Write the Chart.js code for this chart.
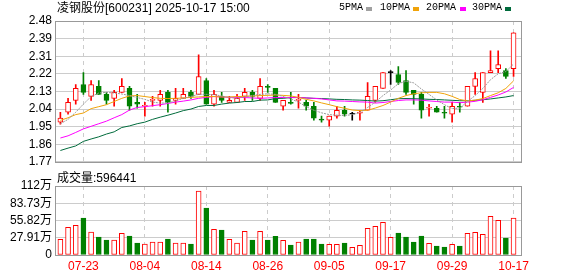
<!DOCTYPE html>
<html>
<head>
<meta charset="utf-8">
<script src="https://cdn.jsdelivr.net/npm/chart.js@4.4.1/dist/chart.umd.min.js"></script>
<style>
  body { margin: 0; background: #fff; }
  #wrap { position: relative; width: 578px; height: 276px; overflow: hidden; font-family: "Liberation Sans", "Noto Sans CJK SC", sans-serif; }
  canvas { position: absolute; left: 0; }
  .txt { position: absolute; font-size: 12px; line-height: 14px; color: #000; white-space: nowrap; }
  .lg { position: absolute; top: 2px; font: 10px/12px "Liberation Mono", monospace; color: #000; }
  .sw { position: absolute; top: 7px; width: 6px; height: 4px; }
</style>
</head>
<body>
<div id="wrap">
  <canvas id="kline" width="578" height="172" style="top:0"></canvas>
  <canvas id="vol" width="578" height="104" style="top:172px"></canvas>
  <div class="txt" style="left:57px;top:1px">凌钢股份[600231] 2025-10-17 15:00</div>
  <div class="lg" style="left:339px">5PMA</div><div class="sw" style="left:366px;background:#a0a0a0"></div>
  <div class="lg" style="left:380px">10PMA</div><div class="sw" style="left:413px;background:#f0a30a"></div>
  <div class="lg" style="left:426px">20PMA</div><div class="sw" style="left:460px;background:#ff00ff"></div>
  <div class="lg" style="left:472px">30PMA</div><div class="sw" style="left:505px;background:#006b3c"></div>
  <div class="txt" style="left:57px;top:171px">成交量:596441</div>
</div>
<script>
const dates = ['07-18','07-21','07-22','07-23','07-24','07-25','07-28','07-29','07-30','07-31',
  '08-01','08-04','08-05','08-06','08-07','08-08','08-11','08-12','08-13','08-14',
  '08-15','08-18','08-19','08-20','08-21','08-22','08-25','08-26','08-27','08-28',
  '08-29','09-01','09-02','09-03','09-04','09-05','09-08','09-09','09-10','09-11',
  '09-12','09-15','09-16','09-17','09-18','09-19','09-22','09-23','09-24','09-25',
  '09-26','09-29','09-30','10-09','10-10','10-13','10-14','10-15','10-16','10-17'];

const openP = [1.97,2.02,2.08,2.16,2.10,2.15,2.11,2.09,2.12,2.14,
  2.07,2.05,2.08,2.08,2.12,2.08,2.09,2.12,2.11,2.18,
  2.06,2.10,2.07,2.07,2.10,2.12,2.09,2.15,2.14,2.05,
  2.07,2.08,2.07,2.05,1.985,1.98,2.00,2.03,2.01,2.015,
  2.03,2.08,2.14,2.22,2.21,2.18,2.13,2.11,2.04,2.04,
  2.02,2.01,2.05,2.05,2.15,2.12,2.22,2.24,2.23,2.24];
const highP = [2.02,2.09,2.16,2.22,2.18,2.18,2.12,2.13,2.19,2.15,
  2.11,2.07,2.10,2.13,2.13,2.14,2.14,2.13,2.31,2.19,
  2.13,2.12,2.10,2.11,2.14,2.13,2.19,2.16,2.14,2.08,
  2.12,2.11,2.08,2.07,2.00,2.00,2.05,2.05,2.02,2.03,
  2.17,2.15,2.22,2.23,2.25,2.23,2.13,2.12,2.06,2.05,
  2.05,2.07,2.07,2.15,2.22,2.22,2.33,2.33,2.24,2.42];
const lowP = [1.96,2.01,2.06,2.11,2.08,2.11,2.06,2.05,2.12,2.03,
  2.04,2.00,2.05,2.05,2.02,2.06,2.09,2.09,2.11,2.06,
  2.05,2.07,2.07,2.07,2.08,2.08,2.08,2.12,2.07,2.03,
  2.06,2.04,2.03,1.98,1.97,1.95,1.99,2.00,1.98,1.98,
  2.03,2.07,2.14,2.16,2.16,2.11,2.06,1.99,2.00,2.02,
  1.99,1.97,2.02,2.05,2.11,2.07,2.22,2.22,2.19,2.20];
const closeP = [1.99,2.07,2.14,2.12,2.16,2.11,2.08,2.12,2.15,2.05,
  2.06,2.055,2.085,2.11,2.07,2.09,2.11,2.10,2.20,2.06,
  2.11,2.08,2.08,2.09,2.12,2.10,2.15,2.145,2.07,2.08,
  2.065,2.085,2.05,1.99,1.98,2.00,2.03,2.01,2.01,2.02,
  2.10,2.15,2.22,2.22,2.17,2.12,2.11,2.03,2.045,2.02,
  2.015,2.05,2.045,2.15,2.19,2.22,2.23,2.26,2.20,2.42];

// moving averages
const ma5 = [1.962,1.984,2.020,2.061,2.099,2.117,2.120,2.117,2.112,2.104,
  2.094,2.085,2.071,2.066,2.067,2.077,2.090,2.100,2.110,2.110,
  2.109,2.102,2.094,2.090,2.097,2.104,2.110,2.113,2.110,2.100,
  2.087,2.071,2.048,2.030,2.017,2.008,2.005,2.003,2.008,2.018,
  2.044,2.071,2.104,2.132,2.164,2.176,2.168,2.137,2.110,2.082,
  2.058,2.038,2.041,2.074,2.104,2.140,2.184,2.214,2.225,2.263];
const ma10 = [1.979,1.992,2.008,2.016,2.038,2.048,2.058,2.074,2.090,2.102,
  2.104,2.099,2.094,2.090,2.089,2.090,2.092,2.095,2.097,2.099,
  2.099,2.097,2.097,2.099,2.100,2.102,2.104,2.105,2.107,2.105,
  2.102,2.095,2.085,2.077,2.067,2.058,2.048,2.040,2.031,2.028,
  2.030,2.041,2.054,2.071,2.090,2.104,2.113,2.118,2.120,2.120,
  2.113,2.100,2.084,2.077,2.081,2.089,2.104,2.118,2.140,2.178];
const ma20 = [1.890,1.901,1.918,1.936,1.949,1.962,1.975,1.992,2.008,2.031,
  2.044,2.048,2.053,2.058,2.064,2.071,2.076,2.082,2.090,2.095,
  2.099,2.097,2.095,2.095,2.094,2.092,2.090,2.092,2.094,2.094,
  2.094,2.094,2.092,2.090,2.087,2.082,2.077,2.076,2.074,2.072,
  2.071,2.066,2.069,2.074,2.079,2.082,2.082,2.081,2.077,2.074,
  2.071,2.071,2.068,2.071,2.075,2.083,2.095,2.107,2.122,2.145];
const ma30 = [1.827,1.839,1.850,1.873,1.885,1.896,1.910,1.921,1.943,1.951,
  1.962,1.970,1.984,1.995,2.005,2.016,2.028,2.036,2.049,2.054,
  2.054,2.061,2.066,2.069,2.074,2.074,2.081,2.082,2.089,2.090,
  2.094,2.094,2.092,2.090,2.089,2.087,2.085,2.084,2.082,2.081,
  2.079,2.076,2.078,2.083,2.088,2.089,2.088,2.087,2.085,2.084,
  2.082,2.080,2.078,2.078,2.080,2.083,2.087,2.092,2.097,2.104];

// volume, 万手
const volume = [25.4,44.8,48.0,59.9,37.2,29.1,24.3,24.3,35.1,30.7,
  19.4,17.8,21.0,21.0,25.9,19.4,19.4,17.8,103.6,76.0,
  41.5,40.4,25.4,19.4,38.3,24.3,38.3,24.3,30.2,23.7,
  16.2,21.0,25.9,25.9,17.8,17.3,17.3,19.4,12.4,15.6,
  43.1,46.4,52.8,28.6,35.6,29.1,21.0,30.7,18.9,14.6,
  12.9,17.3,14.6,35.1,36.7,33.4,62.6,56.1,27.5,59.64];

const priceLabels = ['1.77','1.86','1.95','2.04','2.13','2.22','2.31','2.39','2.48'];
const priceMin = 1.77, priceMax = 2.48;
const volLabels = ['0','27.91万','55.82万','83.73万','112万'];
const volMax = 111.64;
const xTickIdx = [3, 11, 19, 27, 35, 43, 51, 59];

const RED = '#ff0000', GREEN = '#008000', BLACK = '#000000';
const candleColor = closeP.map((c, i) => c > openP[i] ? RED : (c < openP[i] ? GREEN : BLACK));
const bodyFill = closeP.map((c, i) => c > openP[i] ? '#ffffff' : candleColor[i]);
const volUp = closeP.map((c, i) => c >= openP[i]);

const frame = {
  id: 'frame',
  afterDraw(chart) {
    const a = chart.chartArea, ctx = chart.ctx;
    ctx.save();
    ctx.strokeStyle = '#999999';
    ctx.lineWidth = 1;
    ctx.strokeRect(Math.round(a.left) + 0.5, Math.round(a.top) + 0.5, Math.round(a.right - a.left) - 1, Math.round(a.bottom - a.top));
    ctx.restore();
  }
};

const tickFont = { family: '"Liberation Sans", "Noto Sans CJK SC", sans-serif', size: 12 };

const xAxis = (showLabels) => ({
  type: 'linear',
  min: -0.7,
  max: 60.1,
  offset: false,
  afterBuildTicks: s => { s.ticks = xTickIdx.map(v => ({ value: v })); },
  ticks: { display: showLabels, autoSkip: false, maxRotation: 0, color: RED, font: tickFont, padding: 4,
    callback: v => dates[v] },
  grid: { color: '#cccccc', drawTicks: false, offset: false },
  border: { display: false, dash: [4, 4] },
  afterFit: s => { s.height = showLabels ? 21 : 0; }
});

const line = (label, data, color, dash) => ({
  type: 'line', label: label,
  data: data.map((v, i) => ({ x: i, y: v })),
  borderColor: color, borderWidth: 1, borderDash: dash || [],
  pointRadius: 0, tension: 0, order: 1
});

new Chart(document.getElementById('kline'), {
  type: 'bar',
  data: {
    datasets: [
      line('5PMA', ma5, '#9a9a9a', [2, 1]),
      line('10PMA', ma10, '#f0a30a'),
      line('20PMA', ma20, '#ff00ff'),
      line('30PMA', ma30, '#006b3c'),
      {
        label: 'body',
        data: openP.map((o, i) => ({ x: i, y: [o, closeP[i]] })),
        backgroundColor: bodyFill, borderColor: candleColor, borderWidth: 1, borderSkipped: false,
        barThickness: 5, minBarLength: 1, grouped: false, order: 2
      },
      {
        label: 'wick',
        data: lowP.map((l, i) => ({ x: i, y: [l, highP[i]] })),
        backgroundColor: candleColor, barThickness: 1, grouped: false, order: 3
      }
    ]
  },
  options: {
    responsive: false,
    animation: false,
    layout: { padding: { top: 21, right: 56, bottom: 7, left: 0 } },
    plugins: { legend: { display: false }, tooltip: { enabled: false } },
    scales: {
      x: xAxis(false),
      y: {
        min: priceMin, max: priceMax,
        afterBuildTicks: s => { s.ticks = priceLabels.map((t, k) => ({ value: priceMin + k * (priceMax - priceMin) / 8 })); },
        ticks: { autoSkip: false, color: BLACK, font: tickFont, padding: 3, callback: (v, k) => priceLabels[k] },
        grid: { color: '#cccccc', drawTicks: false },
        border: { display: false },
        afterFit: s => { s.width = 55; }
      }
    }
  },
  plugins: [frame]
});

new Chart(document.getElementById('vol'), {
  type: 'bar',
  data: {
    datasets: [{
      label: '成交量',
      data: volume.map((v, i) => ({ x: i, y: v })),
      backgroundColor: volUp.map(u => u ? '#ffffff' : GREEN),
      borderColor: volUp.map(u => u ? RED : GREEN),
      borderWidth: 1, borderSkipped: false, barThickness: 5
    }]
  },
  options: {
    responsive: false,
    animation: false,
    layout: { padding: { top: 14, right: 56, bottom: 0, left: 0 } },
    plugins: { legend: { display: false }, tooltip: { enabled: false } },
    scales: {
      x: xAxis(true),
      y: {
        min: 0, max: volMax,
        afterBuildTicks: s => { s.ticks = volLabels.map((t, k) => ({ value: k * volMax / 4 })); },
        ticks: { autoSkip: false, color: BLACK, font: tickFont, padding: 3, callback: (v, k) => volLabels[k] },
        grid: { color: '#cccccc', drawTicks: false },
        border: { display: false },
        afterFit: s => { s.width = 55; }
      }
    }
  },
  plugins: [frame]
});
</script>
</body>
</html>
